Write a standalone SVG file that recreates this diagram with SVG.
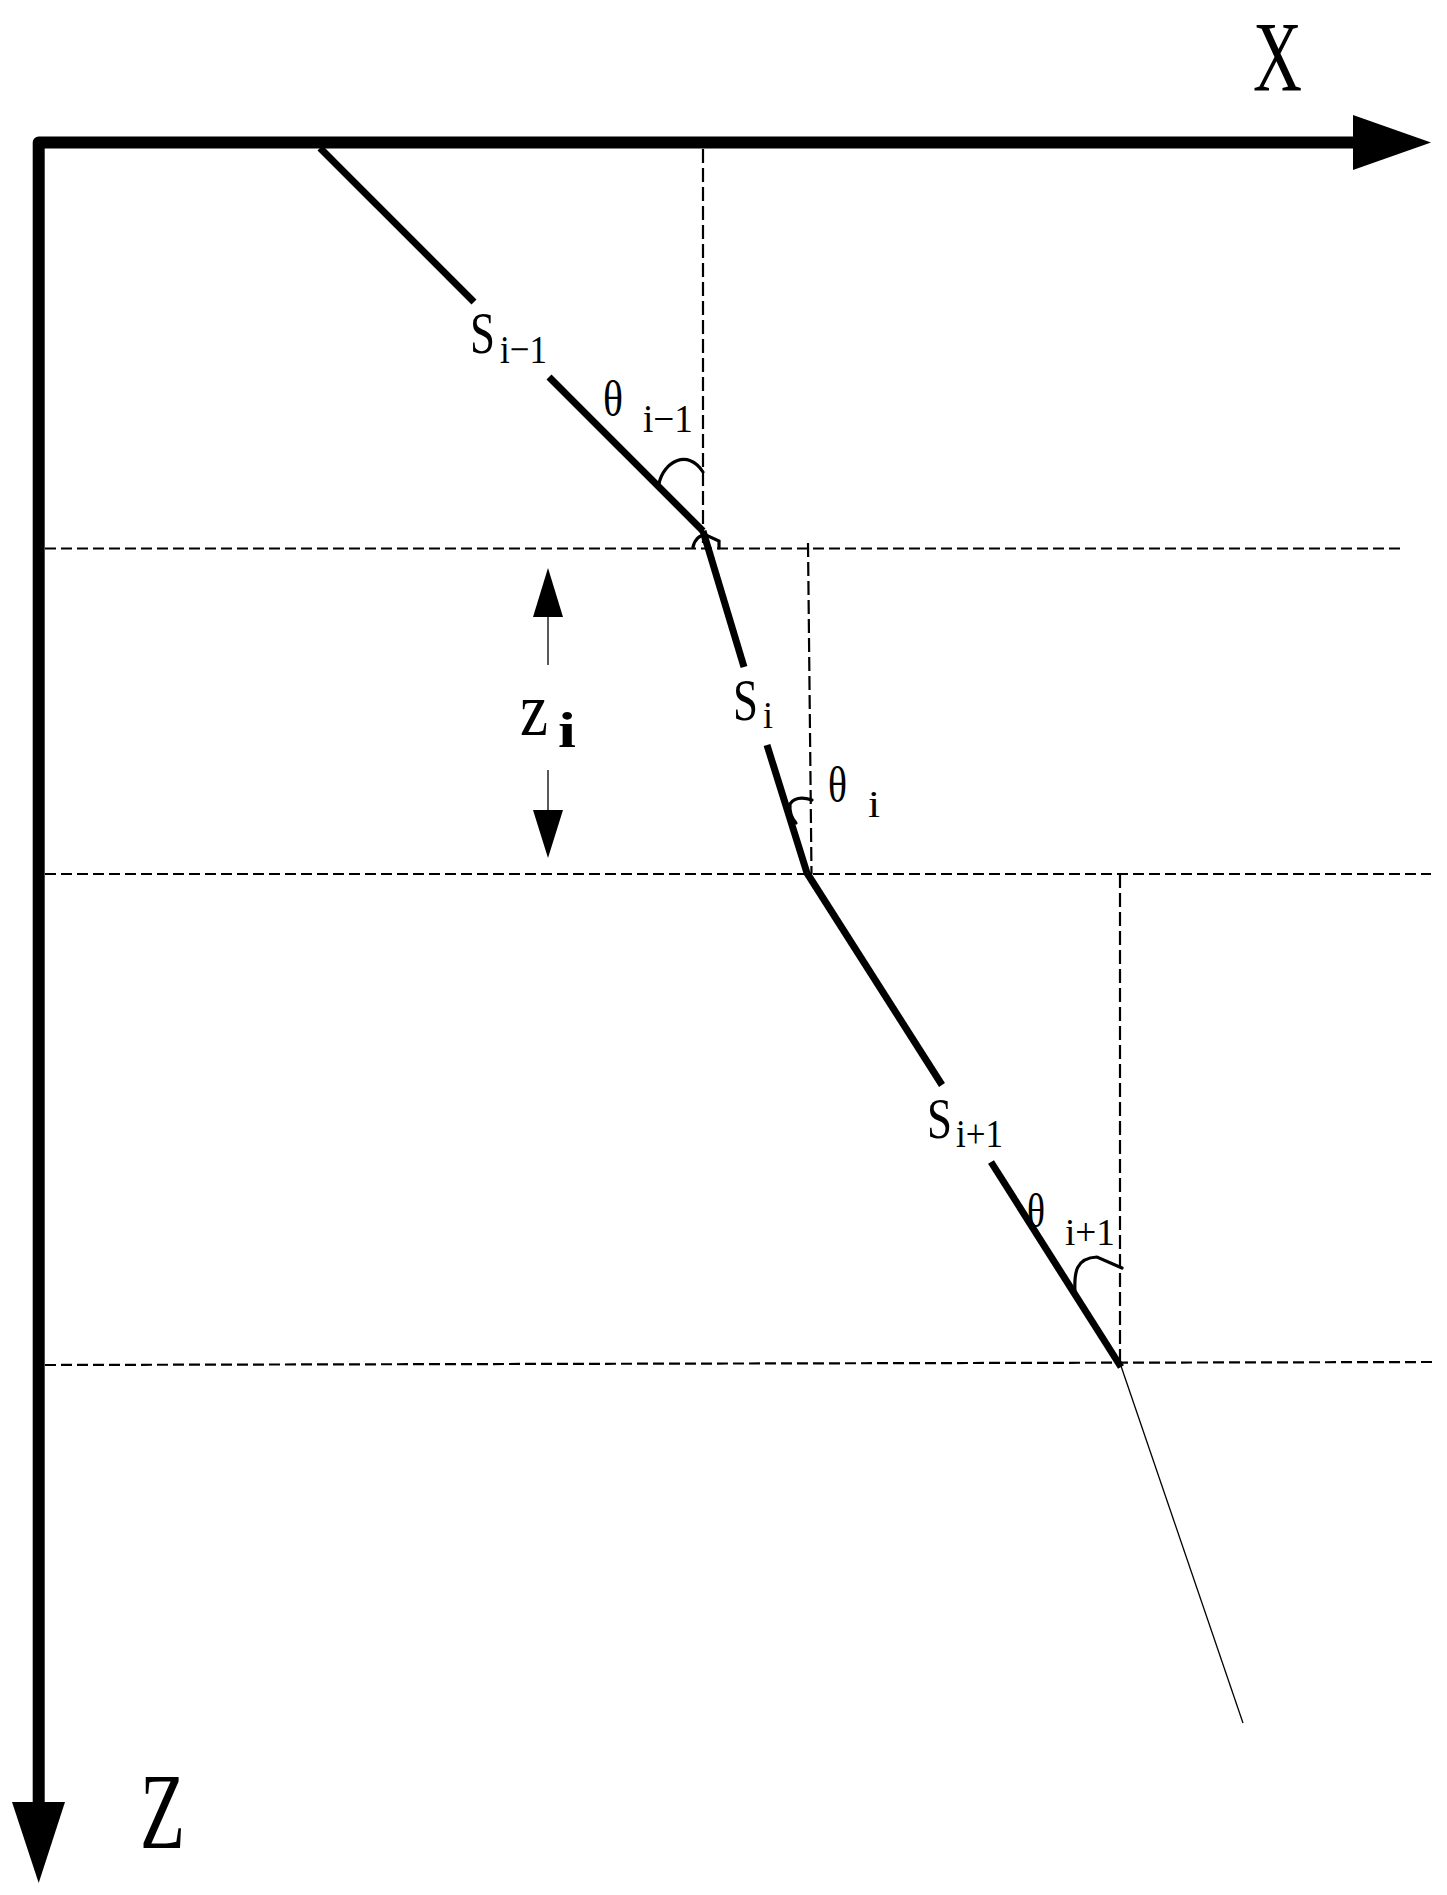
<svg xmlns="http://www.w3.org/2000/svg" width="1447" height="1895" viewBox="0 0 1447 1895">
<style>
  .axis{fill:none;stroke:#000;stroke-width:12;stroke-linejoin:round}
  .well{fill:none;stroke:#000;stroke-width:7;stroke-linecap:butt}
  .thin{fill:none;stroke:#000;stroke-width:1.3}
  .dh{fill:none;stroke:#000;stroke-width:2.2;stroke-dasharray:11 5}
  .dv{fill:none;stroke:#000;stroke-width:2.2;stroke-dasharray:14 5}
  .arc{fill:none;stroke:#000;stroke-width:3.2;stroke-linecap:round}
  .head{fill:#000}
  .t{font-family:"Liberation Serif","Times New Roman",serif;fill:#000}
</style>
<rect width="1447" height="1895" fill="#fff"/>
<g id="axes">
  <path class="axis" d="M38.7,1806 L38.7,142.5 L1356,142.5"/>
  <polygon class="head" points="1353,115 1431,142.5 1353,170"/>
  <polygon class="head" points="12,1802 65,1802 38.7,1883"/>
  <text class="t" x="1253" y="90" font-size="100" textLength="49" lengthAdjust="spacingAndGlyphs">X</text>
  <text class="t" x="140" y="1848" font-size="107" textLength="45" lengthAdjust="spacingAndGlyphs">Z</text>
</g>
<g id="connectors">
  <line class="dh" x1="45" y1="548.5" x2="1401" y2="548.5"/>
  <line class="dh" x1="45" y1="874" x2="1431" y2="874"/>
  <line class="dh" x1="45" y1="1365" x2="1432" y2="1362"/>
  <line class="dv" x1="703" y1="149" x2="703" y2="548"/>
  <line class="dv" x1="808" y1="543" x2="811.5" y2="874"/>
  <line class="dv" x1="1120" y1="874" x2="1120" y2="1365"/>
</g>
<g id="well-path">
  <line class="well" x1="320" y1="148" x2="474" y2="302"/>
  <line class="well" x1="549" y1="377" x2="703" y2="531"/>
  <line class="well" x1="703" y1="531" x2="744" y2="667"/>
  <line class="well" x1="767" y1="745" x2="807" y2="873"/>
  <line class="well" x1="807" y1="873" x2="942" y2="1085"/>
  <line class="well" x1="991" y1="1162" x2="1121" y2="1367"/>
  <line class="thin" x1="1121" y1="1366" x2="1243" y2="1723"/>
</g>
<g id="angle-arcs">
  <path class="arc" d="M659,484 C663,462 688,448 703,472"/>
  <path class="arc" stroke-width="2" d="M693,547 Q696,535 706,535 L719,541 L719,548"/>
  <path class="arc" d="M812,800 Q796,795 790,804 Q789,815 796,823"/>
  <path class="arc" d="M1075,1292 C1074,1272 1076,1258 1097,1257 L1122,1268"/>
</g>
<g id="label-s-im1">
  <text class="t" x="470" y="353" font-size="60" textLength="25" lengthAdjust="spacingAndGlyphs">S</text>
  <text class="t" x="500" y="363" font-size="41" textLength="47" lengthAdjust="spacingAndGlyphs">i−1</text>
</g>
<g id="label-theta-im1">
  <text class="t" x="603" y="416" font-size="50" textLength="20" lengthAdjust="spacingAndGlyphs">θ</text>
  <text class="t" x="643" y="432" font-size="40" textLength="50" lengthAdjust="spacingAndGlyphs">i−1</text>
</g>
<g id="label-s-i">
  <text class="t" x="733" y="720" font-size="60" textLength="25" lengthAdjust="spacingAndGlyphs">S</text>
  <text class="t" x="763" y="728" font-size="38" textLength="10" lengthAdjust="spacingAndGlyphs">i</text>
</g>
<g id="label-theta-i">
  <text class="t" x="828" y="802" font-size="50" textLength="19" lengthAdjust="spacingAndGlyphs">θ</text>
  <text class="t" x="868" y="817" font-size="37" textLength="12" lengthAdjust="spacingAndGlyphs">i</text>
</g>
<g id="label-s-ip1">
  <text class="t" x="927" y="1138" font-size="58" textLength="25" lengthAdjust="spacingAndGlyphs">S</text>
  <text class="t" x="956" y="1147" font-size="40" textLength="47" lengthAdjust="spacingAndGlyphs">i+1</text>
</g>
<g id="label-theta-ip1">
  <text class="t" x="1027" y="1227" font-size="48" textLength="18" lengthAdjust="spacingAndGlyphs">θ</text>
  <text class="t" x="1065" y="1245" font-size="38" textLength="50" lengthAdjust="spacingAndGlyphs">i+1</text>
</g>
<g id="label-zi">
  <line class="thin" stroke-width="1.6" x1="548" y1="615" x2="548" y2="665"/>
  <polygon class="head" points="548,568 563,617 533,617"/>
  <line class="thin" stroke-width="1.6" x1="548" y1="770" x2="548" y2="812"/>
  <polygon class="head" points="533,810 563,810 548,858"/>
  <text class="t" x="520" y="735" font-size="76" textLength="28" lengthAdjust="spacingAndGlyphs">z</text>
  <text class="t" x="558" y="747" font-size="50" font-weight="bold" textLength="18" lengthAdjust="spacingAndGlyphs">i</text>
</g>
</svg>
